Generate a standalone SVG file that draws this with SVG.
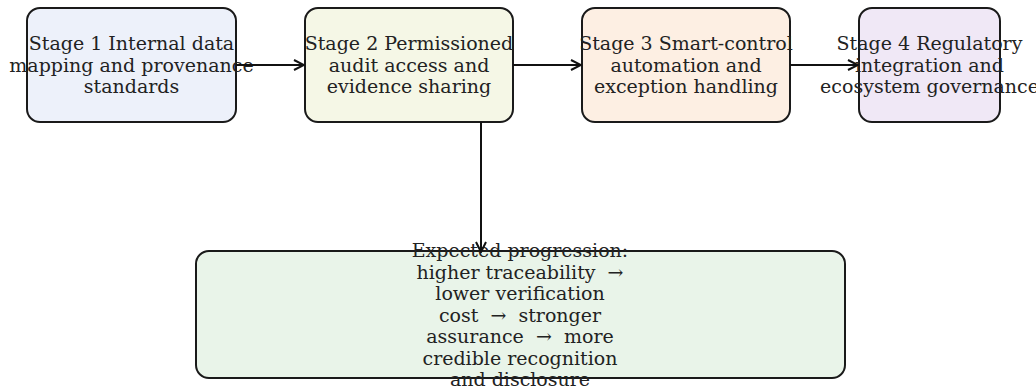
<svg xmlns="http://www.w3.org/2000/svg" width="1036" height="390" viewBox="0 0 1036 390">
<defs>
<style>
.box{stroke:#1a1a1a;stroke-width:2}
.t{font-family:"DejaVu Serif",serif;font-size:19px;fill:#222;text-anchor:middle;white-space:pre}
.c{stroke:#111;stroke-width:2;fill:none}
</style>
<marker id="ah" viewBox="0 0 12 12" refX="11" refY="6" markerWidth="12" markerHeight="12" markerUnits="userSpaceOnUse" orient="auto">
<path d="M1,1 L11,6 L1,11" fill="none" stroke="#111" stroke-width="2"/>
</marker>
</defs>
<rect width="1036" height="390" fill="#fff"/>
<g id="stage1">
<rect class="box" x="27" y="8" width="209" height="114" rx="13" fill="#edf1fa"/>
<text class="t" x="131.5" y="50">Stage 1 Internal data</text>
<text class="t" x="131.5" y="71.5">mapping and provenance</text>
<text class="t" x="131.5" y="93">standards</text>
</g>
<g id="stage2">
<rect class="box" x="305" y="8" width="208" height="114" rx="13" fill="#f5f7e6"/>
<text class="t" x="409" y="50">Stage 2 Permissioned</text>
<text class="t" x="409" y="71.5">audit access and</text>
<text class="t" x="409" y="93">evidence sharing</text>
</g>
<g id="stage3">
<rect class="box" x="582" y="8" width="208" height="114" rx="13" fill="#fdefe3"/>
<text class="t" x="686" y="50">Stage 3 Smart-control</text>
<text class="t" x="686" y="71.5">automation and</text>
<text class="t" x="686" y="93">exception handling</text>
</g>
<g id="stage4">
<rect class="box" x="859" y="8" width="141" height="114" rx="13" fill="#f0e8f6"/>
<text class="t" x="929.5" y="50">Stage 4 Regulatory</text>
<text class="t" x="929.5" y="71.5">integration and</text>
<text class="t" x="929.5" y="93">ecosystem governance</text>
</g>
<g id="outcome">
<rect class="box" x="196" y="251" width="649" height="127" rx="13" fill="#e9f4e9"/>
<text class="t" x="520" y="257">Expected progression:</text>
<text class="t" x="520" y="278.5">higher traceability  →</text>
<text class="t" x="520" y="300">lower verification</text>
<text class="t" x="520" y="321.5">cost  →  stronger</text>
<text class="t" x="520" y="343">assurance  →  more</text>
<text class="t" x="520" y="364.5">credible recognition</text>
<text class="t" x="520" y="386">and disclosure</text>
</g>
<g id="connectors">
<line class="c" x1="236" y1="65" x2="304" y2="65" marker-end="url(#ah)"/>
<line class="c" x1="513" y1="65" x2="581" y2="65" marker-end="url(#ah)"/>
<line class="c" x1="790" y1="65" x2="858" y2="65" marker-end="url(#ah)"/>
<line class="c" x1="481" y1="122" x2="481" y2="252" marker-end="url(#ah)"/>
</g>
</svg>
